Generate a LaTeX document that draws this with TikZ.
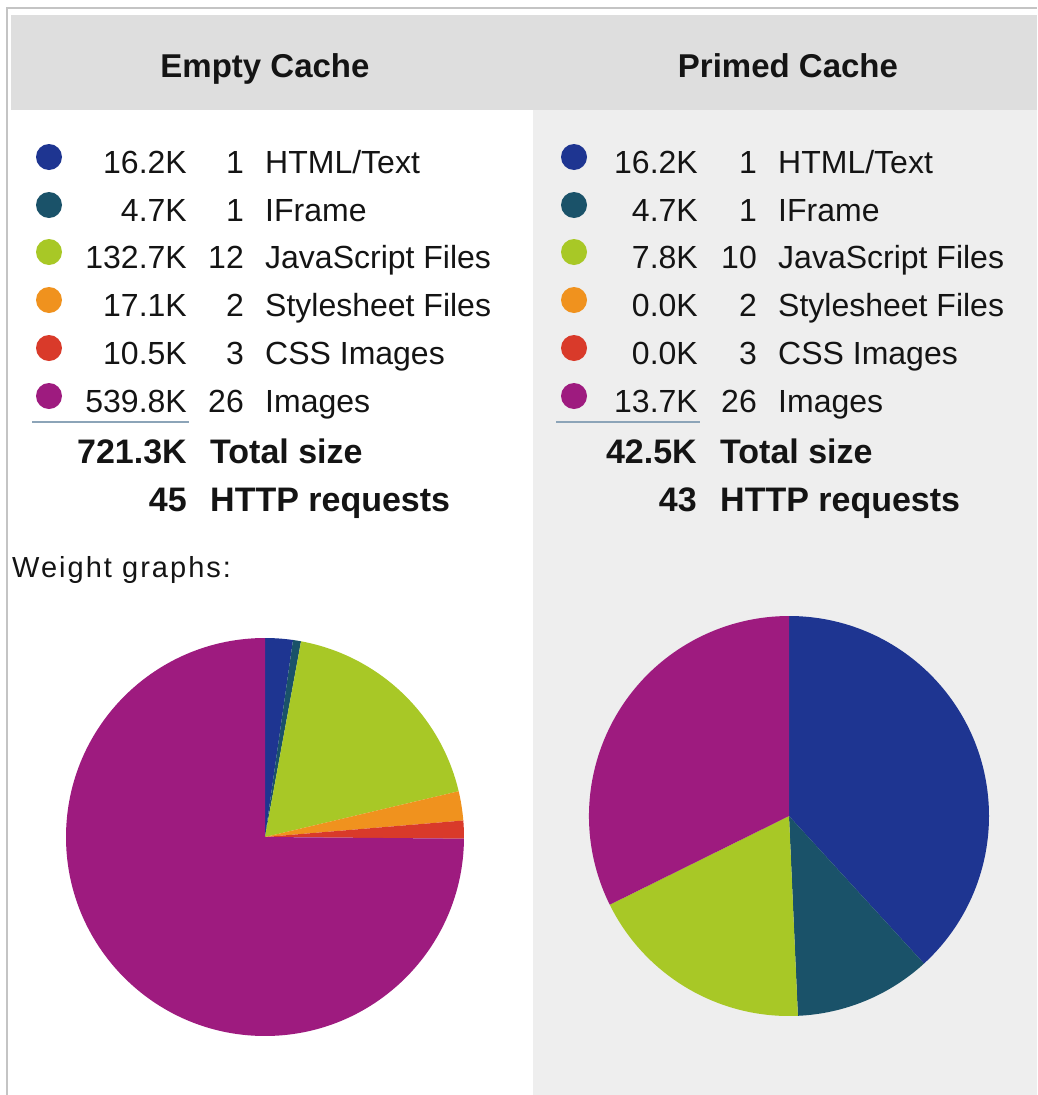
\documentclass[tikz,border=0pt]{standalone}
\usepackage{fontspec}
\setmainfont{Liberation Sans}
\definecolor{chtml}{RGB}{30,53,145}
\definecolor{cifr}{RGB}{26,82,105}
\definecolor{cjs}{RGB}{168,200,38}
\definecolor{ccss}{RGB}{240,146,30}
\definecolor{ccssimg}{RGB}{217,58,42}
\definecolor{cimg}{RGB}{158,27,127}
\definecolor{headgray}{RGB}{222,222,222}
\definecolor{panelgray}{RGB}{238,238,238}
\definecolor{bordergray}{RGB}{196,196,196}
\definecolor{ulinecol}{RGB}{140,164,184}
\definecolor{txt}{RGB}{20,20,20}
\tikzset{
  hdr/.style={font=\fontsize{33}{40}\selectfont\bfseries, text=txt, inner sep=0pt},
  legtxt/.style={font=\fontsize{32}{38}\selectfont, text=txt, inner sep=0pt},
  boldtxt/.style={font=\fontsize{34}{40}\selectfont\bfseries, text=txt, inner sep=0pt},
  smalltxt/.style={font=\fontsize{29}{34}\selectfont\addfontfeatures{LetterSpace=7}, text=txt, inner sep=0pt},
  dot/.style={circle, minimum size=26pt, inner sep=0pt, draw=none},
  uline/.style={draw=ulinecol, line width=1.6pt},
}
% legend row: #1 name, #2 baseline y, #3 colour, #4 size, #5 count, #6 label
\newcommand\legrow[6]{%
  \node[dot, fill=#3] (#1d) at (\cx,-#2+16) {};
  \node[legtxt, anchor=base east] (#1s) at (\sx,-#2) {#4};
  \node[legtxt, anchor=base east] (#1n) at (\nx,-#2) {#5};
  \node[legtxt, anchor=base west] (#1l) at (\lx,-#2) {#6};
}
% pie slice: centre x, centre y, radius, start, end, colour
\newcommand\pieslice[6]{%
  \fill[#6] (#1,#2) -- ++(#4:#3) arc[start angle=#4, end angle=#5, radius=#3] -- cycle;
}
\begin{document}
\begin{tikzpicture}[x=1pt,y=1pt]
\useasboundingbox (0,0) rectangle (1037,-1095);
\fill[white] (0,0) rectangle (1037,-1095);
% panels
\fill[panelgray] (533,-110) rectangle (1037,-1095);
\fill[headgray] (11,-15) rectangle (1037,-110);
\draw[bordergray, line width=2.2pt] (7,-1095) -- (7,-8) -- (1037,-8);
% headers
\node[hdr, anchor=base] (hleft) at (265,-77) {Empty Cache};
\node[hdr, anchor=base] (hright) at (788,-77) {Primed Cache};
% left legend
\def\cx{49}\def\sx{187}\def\nx{244}\def\lx{265}
\legrow{la}{173}{chtml}{16.2K}{1}{HTML/Text}
\legrow{lb}{221}{cifr}{4.7K}{1}{IFrame}
\legrow{lc}{268}{cjs}{132.7K}{12}{JavaScript Files}
\legrow{le}{316}{ccss}{17.1K}{2}{Stylesheet Files}
\legrow{lf}{364}{ccssimg}{10.5K}{3}{CSS Images}
\legrow{lg}{412}{cimg}{539.8K}{26}{Images}
\draw[uline] (32,-422) -- (189,-422);
\node[boldtxt, anchor=base east] (ltotn) at (187,-463) {721.3K};
\node[boldtxt, anchor=base west] (ltotl) at (210,-463) {Total size};
\node[boldtxt, anchor=base east] (lreqn) at (187,-511) {45};
\node[boldtxt, anchor=base west] (lreql) at (210,-511) {HTTP requests};
\node[smalltxt, anchor=base west] (wg) at (12,-577) {Weight graphs:};
% right legend
\def\cx{574}\def\sx{698}\def\nx{757}\def\lx{778}
\legrow{ra}{173}{chtml}{16.2K}{1}{HTML/Text}
\legrow{rb}{221}{cifr}{4.7K}{1}{IFrame}
\legrow{rc}{268}{cjs}{7.8K}{10}{JavaScript Files}
\legrow{re}{316}{ccss}{0.0K}{2}{Stylesheet Files}
\legrow{rf}{364}{ccssimg}{0.0K}{3}{CSS Images}
\legrow{rg}{412}{cimg}{13.7K}{26}{Images}
\draw[uline] (556,-422) -- (700,-422);
\node[boldtxt, anchor=base east] (rtotn) at (697,-463) {42.5K};
\node[boldtxt, anchor=base west] (rtotl) at (720,-463) {Total size};
\node[boldtxt, anchor=base east] (rreqn) at (697,-511) {43};
\node[boldtxt, anchor=base west] (rreql) at (720,-511) {HTTP requests};
% left pie
\pieslice{265}{-837}{199}{90}{81.91}{chtml}
\pieslice{265}{-837}{199}{81.91}{79.56}{cifr}
\pieslice{265}{-837}{199}{79.56}{13.30}{cjs}
\pieslice{265}{-837}{199}{13.30}{4.76}{ccss}
\pieslice{265}{-837}{199}{4.76}{-0.48}{ccssimg}
\pieslice{265}{-837}{199}{-0.48}{-270}{cimg}
% right pie
\pieslice{789}{-816}{200}{90}{-47.55}{chtml}
\pieslice{789}{-816}{200}{-47.55}{-87.45}{cifr}
\pieslice{789}{-816}{200}{-87.45}{-153.68}{cjs}
\pieslice{789}{-816}{200}{-153.68}{-270}{cimg}
\end{tikzpicture}
\end{document}
